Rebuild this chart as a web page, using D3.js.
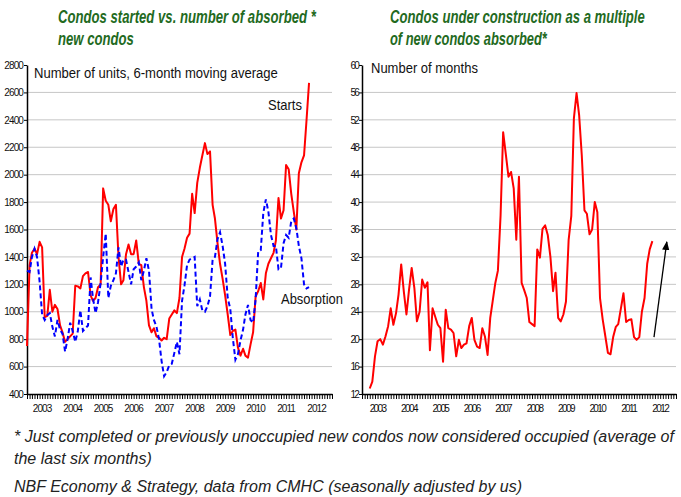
<!DOCTYPE html>
<html><head><meta charset="utf-8">
<script src="https://cdn.jsdelivr.net/npm/d3@7"></script>
<style>
body{margin:0;background:#fff}
svg{display:block}
</style>
</head><body>
<svg id="chart" width="681" height="497"></svg>
<script>
// ---------- DATA ----------
const firstYear = 2003;
const yearLabels = [2003,2004,2005,2006,2007,2008,2009,2010,2011,2012];
const leftTicks = [400,600,800,1000,1200,1400,1600,1800,2000,2200,2400,2600,2800];
const rightTicks = [12,16,20,24,28,32,36,40,44,48,52,56,60];

// Condo starts, 6-month moving average, monthly from Jan 2003
const starts = [750,1340,1430,1460,1420,1510,1470,960,970,1160,1000,1050,1020,900,850,780,800,820,840,1190,
  1185,1170,1260,1280,1290,1120,1080,1100,1180,1200,1900,1810,1780,1660,1750,1780,1400,1200,1230,1420,
  1490,1420,1420,1520,1350,1340,1180,1080,900,850,880,820,810,790,810,800,950,980,1010,990,
  1100,1400,1460,1540,1570,1860,1720,1940,2050,2140,2230,2150,2170,1780,1680,1500,1350,1240,1120,980,
  830,860,870,740,680,730,680,665,760,850,1110,1150,1210,1090,1280,1350,1390,1430,1520,1830,
  1680,1740,2070,2040,1860,1730,1600,2010,2090,2140,2390,2670];

// Absorbed new condos, 6-month moving average, monthly from Jan 2003
const absorption = [1300,1290,1400,1460,1400,1220,980,940,975,990,890,820,940,870,840,710,800,920,860,780,
  860,1010,860,880,900,1250,1100,990,1070,1210,1400,1570,1100,1190,1230,1280,1470,1330,1380,1380,
  1290,1200,1310,1330,1360,1230,1300,1390,1300,1020,940,890,800,640,530,560,610,620,700,780,
  690,1080,1190,1340,1380,1390,1400,1040,1090,1010,1000,1040,1110,1380,1400,1530,1580,1480,1350,1100,
  1020,810,650,690,790,870,980,1050,940,920,1090,1440,1450,1720,1820,1730,1560,1480,1480,1310,
  1320,1500,1560,1540,1660,1680,1610,1480,1390,1200,1170,1180];

// Condos under construction / absorbed (months), monthly from Apr 2003
const monthsFirstIndex = 3;
const months = [12.8,13.8,17.5,19.7,20.0,19.2,20.4,21.9,24.5,22.1,23.8,26.5,30.9,27.0,23.6,27.2,30.4,27.5,22.6,24.0,
  28.7,27.5,28.3,18.4,24.5,23.3,22.1,21.6,16.7,24.3,21.6,21.4,20.9,17.5,19.9,18.7,19.2,19.4,21.9,23.1,
  19.9,18.9,18.7,21.6,20.4,17.7,23.1,25.5,28.2,30.0,38.0,50.2,47.0,43.7,44.4,42.0,34.5,43.7,28.2,27.2,
  26.0,22.5,22.2,21.9,33.1,31.9,36.1,36.6,35.2,32.0,27.0,29.7,23.1,22.6,23.6,25.5,34.5,38.0,52.2,55.9,
  52.7,46.8,38.8,38.3,35.3,36.0,40.0,38.5,26.0,22.9,20.5,18.0,17.8,20.3,21.8,22.2,24.5,26.7,22.5,22.8,
  22.9,20.3,19.9,20.3,24.0,26.0,31.0,33.1,34.3];

// Trend arrow (month index from Jan 2003, value)
const arrowFrom = {month: 111.6, value: 20.3};
const arrowTo = {month: 116.5, value: 34.2};

// ---------- DRAW ----------
const svg = d3.select("#chart");
svg.append("rect").attr("width",681).attr("height",497).attr("fill","#fff");

const monthDate = m => new Date(firstYear, 0, 1 + Math.round(m * 30.4375));
const dateOf = i => new Date(firstYear, i, 1);
const domainX = [new Date(2003,0,1), new Date(2013,0,1)];

const sans = "'Liberation Sans',Arial,sans-serif";

// Place a text at (x,y) and squeeze it horizontally to a target width
function fitted(x, y, s, width, style){
  const e = svg.append("text").attr("x", 0).attr("y", 0).attr("font-family", sans).text(s);
  style(e);
  const natural = e.node().getComputedTextLength();
  const k = Math.min(1.2, width / natural);
  e.attr("transform", `translate(${x},${y}) scale(${k},1)`);
  return e;
}

function panel(opts){
  const x = d3.scaleTime().domain(domainX).range([opts.x0, opts.x1]);
  const y = d3.scaleLinear().domain(opts.yDomain).range([394, 65]);
  const g = svg.append("g");

  // gridlines
  g.selectAll("line.grid").data(opts.ticks.slice(1, -1)).join("line")
    .attr("x1", opts.x0).attr("x2", opts.x1)
    .attr("y1", d => y(d)).attr("y2", d => y(d))
    .attr("stroke", "#c6c6c6").attr("stroke-width", 1);

  // y axis
  const ya = g.append("g").attr("transform", `translate(${opts.x0},0)`)
    .call(d3.axisLeft(y).tickValues(opts.ticks).tickFormat(d3.format("d"))
      .tickSize(3).tickSizeOuter(0).tickPadding(1));
  ya.select(".domain").attr("stroke", "#000").attr("stroke-width", 1.5);
  ya.selectAll(".tick line").attr("stroke", "#000");
  ya.selectAll("text").attr("font-family", sans).attr("font-size", 10)
    .attr("letter-spacing", opts.yLetter).attr("fill", "#111");

  // x axis
  const xa = g.append("g").attr("transform", "translate(0,394)")
    .call(d3.axisBottom(x).ticks(d3.timeMonth.every(1)).tickSize(5).tickSizeOuter(0).tickFormat(""));
  xa.select(".domain").attr("stroke", "#000").attr("stroke-width", 1.5);
  xa.selectAll(".tick line").attr("stroke", "#000");

  g.selectAll("text.year").data(yearLabels).join("text")
    .attr("class","year")
    .attr("x", d => x(new Date(d, 6, 1))).attr("y", 412)
    .attr("text-anchor", "middle").attr("font-family", sans).attr("font-size", 10)
    .attr("letter-spacing", opts.xLetter).attr("fill", "#111")
    .text(d => d);

  return {x, y, g};
}

// Left panel
const L = panel({x0: 27, x1: 332, yDomain: [400, 2800], ticks: leftTicks, yLetter: -0.9, xLetter: -0.9});
const lineL = d3.line().x((d,i) => L.x(dateOf(i))).y(d => L.y(d));
L.g.append("path").datum(starts).attr("d", lineL)
  .attr("fill","none").attr("stroke","#ff0000").attr("stroke-width",2).attr("stroke-linejoin","round");
L.g.append("path").datum(absorption).attr("d", lineL)
  .attr("fill","none").attr("stroke","#0000ff").attr("stroke-width",2).attr("stroke-dasharray","5,3");

// Right panel
const R = panel({x0: 362, x1: 676, yDomain: [12, 60], ticks: rightTicks, yLetter: -1.8, xLetter: -1.6});
const lineR = d3.line().x((d,i) => R.x(dateOf(i + monthsFirstIndex))).y(d => R.y(d));
R.g.append("path").datum(months).attr("d", lineR)
  .attr("fill","none").attr("stroke","#ff0000").attr("stroke-width",2).attr("stroke-linejoin","round");

// arrow
const defs = svg.append("defs");
defs.append("marker").attr("id","ah").attr("viewBox","0 0 10 10").attr("refX",9).attr("refY",5)
  .attr("markerWidth",7).attr("markerHeight",7).attr("orient","auto")
  .append("path").attr("d","M0,1 L10,5 L0,9 Z").attr("fill","#000");
R.g.append("line")
  .attr("x1", R.x(monthDate(arrowFrom.month))).attr("y1", R.y(arrowFrom.value))
  .attr("x2", R.x(monthDate(arrowTo.month))).attr("y2", R.y(arrowTo.value))
  .attr("stroke","#000").attr("stroke-width",1.3).attr("marker-end","url(#ah)");

// in-plot texts
const plain = e => e.attr("font-size", 14).attr("fill", "#111");
fitted(34, 78, "Number of units, 6-month moving average", 244, plain);
fitted(268, 110, "Starts", 34, plain);
fitted(281, 304, "Absorption", 62, plain);
fitted(371, 73, "Number of months", 107, plain);

// titles
const titleStyle = e => e.attr("font-size", 18).attr("font-weight", "bold")
  .attr("font-style", "italic").attr("fill", "#236a1e");
fitted(58, 23, "Condos started vs. number of absorbed *", 258, titleStyle);
fitted(58, 45, "new condos", 76, titleStyle);
fitted(390, 23, "Condos under construction as a multiple", 255, titleStyle);
fitted(390, 45, "of new condos absorbed*", 157, titleStyle);

// footnotes
const foot = (y, s) => svg.append("text").attr("x", 14).attr("y", y)
  .attr("font-family", sans).attr("font-size", 16).attr("font-style", "italic")
  .attr("fill", "#222").text(s);
foot(442, "* Just completed or previously unoccupied new condos now considered occupied (average of");
foot(464, "the last six months)");
foot(492, "NBF Economy & Strategy, data from CMHC (seasonally adjusted by us)");
</script>
</body></html>
